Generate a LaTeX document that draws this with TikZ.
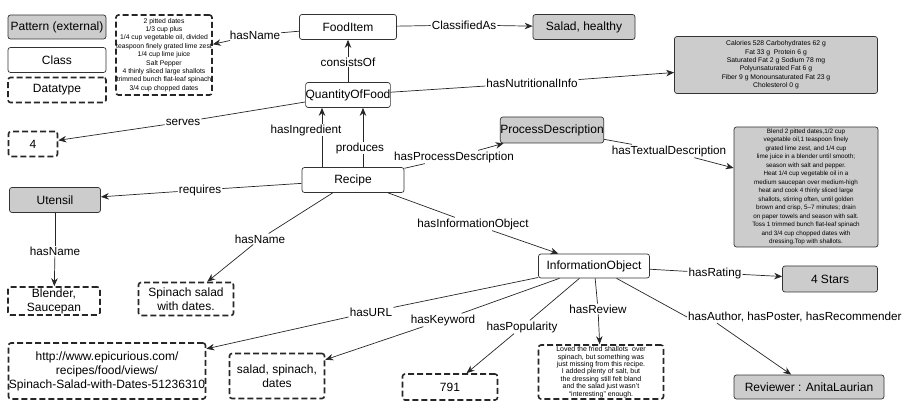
\documentclass[tikz,border=0pt]{standalone}
\usepackage{fontspec}
\setmainfont{Liberation Sans}
\usetikzlibrary{arrows.meta}

\newcommand{\tinytext}{\fontsize{6.8}{8.4}\selectfont}

\begin{document}
\begin{tikzpicture}[x=1pt, y=-1pt,
    box/.style={draw=black!80, line width=0.7pt, rounded corners=2.5pt, inner sep=0pt,
        align=center, font=\fontsize{12}{14}\selectfont},
    cls/.style={box, fill=white},
    ext/.style={box, fill=black!20},
    dtype/.style={box, draw=black!85, line width=1.6pt, dash pattern=on 6pt off 3pt},
    sz/.style 2 args={minimum width=#1pt, minimum height=#2pt},
    lbl/.style={fill=white, inner sep=1pt, font=\fontsize{11.7}{13}\selectfont},
    link/.style={line width=0.7pt, draw=black!85},
    arr/.style={link, -{Stealth[length=8pt, width=6.5pt]}}]
    \useasboundingbox (0,0) rectangle (902,403);

    % legend
    \node[ext, sz={98}{24}] (lgpat) at (57,27) {Pattern (external)};
    \node[cls, sz={98}{25}] (lgcls) at (57,60) {Class};
    \node[dtype, sz={98}{25}] (lgdt) at (57,90) {Datatype};

    % food item and quantity
    \node[cls, sz={97}{25}] (food) at (348,27) {FoodItem};
    \node[ext, sz={102}{25}] (salad) at (584,27) {Salad, healthy};
    \node[cls, sz={84}{25}] (qty) at (348,95) {QuantityOfFood};
    \node[dtype, sz={96}{80}, font=\tinytext] (ingr) at (164,55) {2 pitted dates\\1/3 cup plus\\1/4 cup vegetable oil, divided\\teaspoon finely grated lime zest\\1/4 cup lime juice\\Salt Pepper\\4 thinly sliced large shallots\\trimmed bunch flat-leaf spinach\\3/4 cup chopped dates};
    \node[ext, sz={203}{57}, font=\tinytext] (nutr) at (776,65) {Calories 528 Carbohydrates 62 g\\Fat 33 g\ \ Protein 6 g\\Saturated Fat 2 g Sodium 78 mg\\Polyunsaturated Fat 6 g\\Fiber 9 g Monounsaturated Fat 23 g\\Cholesterol 0 g};
    \node[dtype, sz={49}{25}] (four) at (33,144) {4};

    % recipe
    \node[cls, sz={102}{25}] (rec) at (353,180) {Recipe};
    \node[ext, sz={103}{26}] (proc) at (552,130) {ProcessDescription};
    \node[ext, sz={144}{120}, font=\fontsize{6.3}{8.5}\selectfont] (desc) at (806,187) {Blend 2 pitted dates,1/2 cup\\vegetable oil,1 teaspoon finely\\grated lime zest, and 1/4 cup\\lime juice in a blender until smooth;\\season with salt and pepper.\\Heat 1/4 cup vegetable oil in a\\medium saucepan over medium-high\\heat and cook 4 thinly sliced large\\shallots, stirring often, until golden\\brown and crisp, 5--7 minutes; drain\\on paper towels and season with salt.\\Toss 1 trimmed bunch flat-leaf spinach\\and 3/4 cup chopped dates with\\dressing.Top with shallots.};
    \node[ext, sz={91}{25}] (uten) at (55,200) {Utensil};
    \node[dtype, sz={92}{28}] (tools) at (54,301) {Blender,\\Saucepan};
    \node[dtype, sz={95}{33}] (rname) at (186,299) {Spinach salad\\with dates.};

    % information object
    \node[cls, sz={111}{24}] (info) at (594,266) {InformationObject};
    \node[ext, sz={95}{26}] (stars) at (830,279) {4 Stars};
    \node[dtype, sz={197}{56}] (url) at (107,371) {http://www.epicurious.com/\\recipes/food/views/\\Spinach-Salad-with-Dates-51236310};
    \node[dtype, sz={95}{45}] (kw) at (277,376) {salad, spinach,\\dates};
    \node[dtype, sz={95}{26}] (pop) at (450,387) {791};
    \node[dtype, sz={125}{54}, font=\fontsize{7}{7.4}\selectfont] (rev) at (601,372) {Loved the fried shallots\ \ over\\spinach, but something was\\just missing from this recipe.\\I added plenty of salt, but\\the dressing still felt bland\\and the salad just wasn't\\``interesting'' enough.};
    \node[ext, sz={150}{24}] (revr) at (809,387) {Reviewer : AnitaLaurian};

    % vertical links under their labels
    \draw[arr] ([xshift=-31pt]rec.north) -- ([xshift=-31pt]rec.north |- qty.south);
    \draw[arr] ([xshift=10pt]rec.north) -- ([xshift=10pt]rec.north |- qty.south);

    % labels
    \node[lbl] (lnm1) at (255,35) {hasName};
    \node[lbl] (lcls) at (464,25) {ClassifiedAs};
    \node[lbl] (lcon) at (348,62) {consistsOf};
    \node[lbl] (lnut) at (532,83) {hasNutritionalInfo};
    \node[lbl] (lsrv) at (183,122) {serves};
    \node[lbl] (ling) at (306,130) {hasIngredient};
    \node[lbl] (lprd) at (360,148) {produces};
    \node[lbl] (lpd) at (454,157) {hasProcessDescription};
    \node[lbl] (ltd) at (669,151) {hasTextualDescription};
    \node[lbl] (lreq) at (200,190) {requires};
    \node[lbl] (lnm2) at (55,251) {hasName};
    \node[lbl] (lnm3) at (260,239) {hasName};
    \node[lbl] (lio) at (473,224) {hasInformationObject};
    \node[lbl] (lrat) at (715,273) {hasRating};
    \node[lbl] (lurl) at (371,312) {hasURL};
    \node[lbl] (lkw) at (443,320) {hasKeyword};
    \node[lbl] (lpop) at (522,327) {hasPopularity};
    \node[lbl] (lrev) at (598,309) {hasReview};
    \node[lbl, anchor=west] (lauth) at (687,317) {hasAuthor, hasPoster, hasRecommender};

    % links through labels
    \foreach \a/\l/\b in {food/lnm1/ingr, food/lcls/salad, qty/lcon/food, qty/lnut/nutr,
        qty/lsrv/four, rec/lpd/proc, proc/ltd/desc, rec/lreq/uten, uten/lnm2/tools,
        rec/lnm3/rname, rec/lio/info, info/lrat/stars, info/lurl/url, info/lkw/kw,
        info/lpop/pop, info/lrev/rev}
        {\draw[link] (\a) -- (\l); \draw[arr] (\l) -- (\b);}
    \draw[link] (info) -- (lauth.west);
    \draw[arr] ([xshift=30pt]lauth.south west) -- (revr);
\end{tikzpicture}
\end{document}
